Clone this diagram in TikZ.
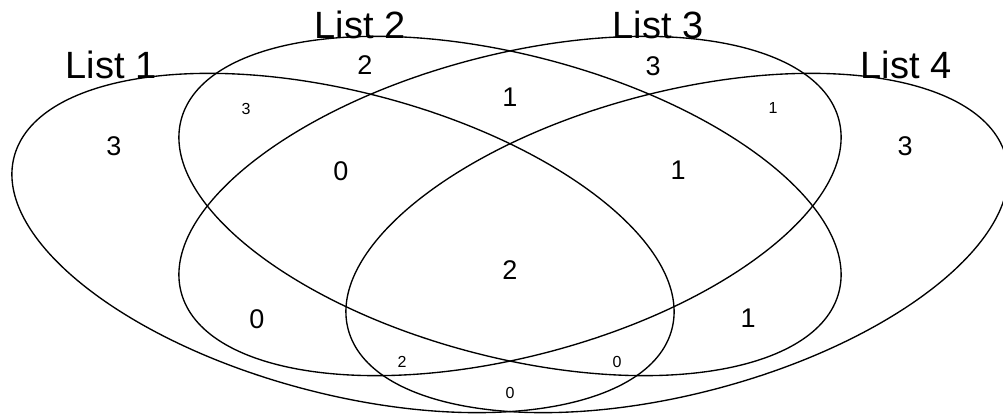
\documentclass[tikz,border=0pt]{standalone}
\usepackage{fontspec}
\setmainfont{Liberation Sans}
\tikzset{setline/.style = {line width=1.35pt}}
\tikzset{title/.style = {inner sep=0, font=\fontsize{38}{40}\selectfont}}
\tikzset{cnt/.style = {inner sep=0, font=\fontsize{27}{29}\selectfont}}
\tikzset{cntsmall/.style = {inner sep=0, font=\fontsize{16}{18}\selectfont}}
\begin{document}
\begin{tikzpicture}[x=1pt,y=1pt]
\useasboundingbox (0,0) rectangle (1003,414);
\clip (0,0) rectangle (1003,414);
% the four sets
\draw [setline, rotate around={-14.7:(343,171)}] (343,171) ellipse [x radius=340, y radius=151];
\draw [setline, rotate around={-14.7:(510,208)}] (510,208) ellipse [x radius=340, y radius=151];
\draw [setline, rotate around={14.7:(510,208)}] (510,208) ellipse [x radius=340, y radius=151];
\draw [setline, rotate around={14.7:(677,171)}] (677,171) ellipse [x radius=340, y radius=151];
% set names
\node [title] (list1) at (111,349) {List 1};
\node [title] (list2) at (360,389) {List 2};
\node [title] (list3) at (658,389) {List 3};
\node [title] (list4) at (906,349) {List 4};
% counts
\node [cnt] (only1) at (114,268) {3};
\node [cnt] (only2) at (365,349) {2};
\node [cnt] (only3) at (653,348) {3};
\node [cnt] (only4) at (905,268) {3};
\node [cntsmall] (s12) at (246,305) {3};
\node [cntsmall] (s34) at (773,306) {1};
\node [cnt] (s23) at (510,317) {1};
\node [cnt] (s123) at (341,243) {0};
\node [cnt] (s234) at (678,244) {1};
\node [cnt] (s1234) at (510,144) {2};
\node [cnt] (s13) at (257,95) {0};
\node [cnt] (s24) at (748,96) {1};
\node [cntsmall] (s134) at (402,52) {2};
\node [cntsmall] (s124) at (617,52) {0};
\node [cntsmall] (s14) at (510,21) {0};
\end{tikzpicture}
\end{document}
